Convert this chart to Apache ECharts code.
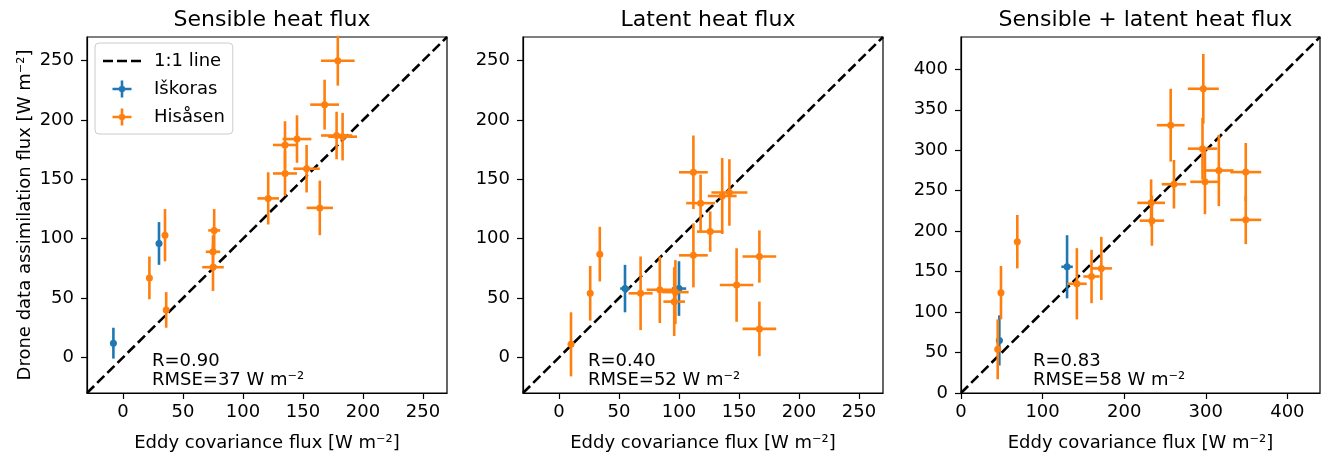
<!DOCTYPE html>
<html>
<head>
<meta charset="utf-8">
<script src="https://cdn.jsdelivr.net/npm/echarts@6/dist/echarts.min.js"></script>
<style>
html,body{margin:0;padding:0;background:#fff;}
#chart{width:1323px;height:457px;}
</style>
</head>
<body>
<div id="chart"></div>
<script>
// ---- data: [x (eddy covariance), y (drone), xerr, yerr] ----
const sensibleIskoras = [[-8, 12, 1, 13], [30, 96, 1, 18]];
const sensibleHisasen = [
  [22, 67, 1, 18], [35, 103, 1, 22], [36, 40, 1, 15], [76, 107, 5, 18],
  [75, 89, 6, 14], [75, 76, 9, 20], [121, 134, 9, 22], [135, 155, 10, 19],
  [135, 179, 10, 20], [145, 184, 12, 20], [153, 159, 11, 20], [164, 126, 11, 23],
  [168, 213, 12, 21], [178, 187, 13, 20], [183, 186, 12, 20], [179, 250, 14, 21]
];
const latentIskoras = [[55, 58, 4, 20], [100, 58, 6, 23]];
const latentHisasen = [
  [10, 11, 1, 27], [26, 54, 1, 23], [34, 87, 1, 23], [68, 54, 10, 31],
  [84, 57, 11, 28], [97, 55, 11, 27], [96, 47, 9, 29], [112, 156, 12, 31],
  [112, 86, 12, 27], [118, 130, 12, 24], [126, 106, 11, 17], [136, 136, 12, 32],
  [142, 139, 15, 28], [148, 61, 14, 31], [167, 85, 14, 22], [167, 24, 14, 23]
];
const totalIskoras = [[47, 65, 4, 31], [130, 156, 7, 39]];
const totalHisasen = [
  [45, 54, 2, 37], [49, 124, 2, 33], [69, 187, 2, 33], [142, 135, 12, 44],
  [160, 144, 10, 33], [172, 154, 13, 39], [233, 235, 17, 29], [234, 213, 15, 31],
  [257, 331, 17, 45], [261, 258, 15, 30], [297, 376, 19, 43], [296, 302, 18, 38],
  [299, 261, 18, 40], [316, 275, 18, 44], [349, 273, 19, 36], [349, 214, 19, 30]
];
const panelTitles = ['Sensible heat flux', 'Latent heat flux', 'Sensible + latent heat flux'];
const stats = [['R=0.90', 'RMSE=37 W m⁻²'], ['R=0.40', 'RMSE=52 W m⁻²'], ['R=0.83', 'RMSE=58 W m⁻²']];
const ticksSmall = [0, 50, 100, 150, 200, 250];
const ticksTotalX = [0, 100, 200, 300, 400];
const ticksTotalY = [0, 50, 100, 150, 200, 250, 300, 350, 400];
const rangeSmall = [-30, 270];
const rangeTotal = [0, 440];
const oneToOneSmall = [[-30, -30], [270, 270]];
const oneToOneTotal = [[0, 0], [440, 440]];
const xLabel = 'Eddy covariance flux [W m⁻²]';
const yLabel = 'Drone data assimilation flux [W m⁻²]';
const siteNames = ['Iškoras', 'Hisåsen'];

// ---- layout / style ----
const BLUE = '#1f77b4', ORANGE = '#ff7f0e';
const FONT = 'DejaVu Sans';
const FS = 18;
const grids = [
  {left: 87, top: 37, width: 360, height: 360},
  {left: 523, top: 37, width: 360, height: 360},
  {left: 961, top: 37, width: 359, height: 360}
];

function errRender(params, api) {
  const x = api.value(0), y = api.value(1), xe = api.value(2), ye = api.value(3);
  const l = api.coord([x - xe, y]), r = api.coord([x + xe, y]);
  const t = api.coord([x, y + ye]), b = api.coord([x, y - ye]);
  const style = {stroke: api.visual('color'), lineWidth: 2.6};
  return {type: 'group', children: [
    {type: 'line', shape: {x1: l[0], y1: l[1], x2: r[0], y2: r[1]}, style: style},
    {type: 'line', shape: {x1: t[0], y1: t[1], x2: b[0], y2: b[1]}, style: style}
  ]};
}

function axis(range, ticks, gridIndex, isX, withName) {
  const a = {
    type: 'value', gridIndex: gridIndex, min: range[0], max: range[1],
    splitLine: {show: false},
    axisLine: {show: true, onZero: false, lineStyle: {color: '#000', width: 1.2}},
    axisTick: {show: true, inside: false, length: 6, customValues: ticks, lineStyle: {color: '#000', width: 1.2}},
    axisLabel: {customValues: ticks, color: '#000', fontFamily: FONT, fontSize: FS, margin: isX ? 10 : 13},
    position: isX ? 'bottom' : 'left'
  };
  if (withName) {
    a.name = isX ? xLabel : yLabel;
    a.nameLocation = 'middle';
    a.nameGap = isX ? 41 : 53;
    a.nameTextStyle = {color: '#000', fontFamily: FONT, fontSize: FS};
  }
  return a;
}

const xAxes = [
  axis(rangeSmall, ticksSmall, 0, true, true),
  axis(rangeSmall, ticksSmall, 1, true, true),
  axis(rangeTotal, ticksTotalX, 2, true, true)
];
const yAxes = [
  axis(rangeSmall, ticksSmall, 0, false, true),
  axis(rangeSmall, ticksSmall, 1, false, false),
  axis(rangeTotal, ticksTotalY, 2, false, false)
];

const panels = [
  [sensibleIskoras, sensibleHisasen, oneToOneSmall],
  [latentIskoras, latentHisasen, oneToOneSmall],
  [totalIskoras, totalHisasen, oneToOneTotal]
];

const series = [];
panels.forEach(function (p, i) {
  series.push({
    name: '1:1 line', type: 'line', xAxisIndex: i, yAxisIndex: i, data: p[2],
    symbol: 'none', silent: true, z: 1, itemStyle: {color: '#000'},
    lineStyle: {color: '#000', width: 2.6, type: [10, 4.3]}
  });
  [[p[0], siteNames[0], BLUE], [p[1], siteNames[1], ORANGE]].forEach(function (s, k) {
    series.push({
      name: s[1], type: 'custom', xAxisIndex: i, yAxisIndex: i, data: s[0],
      renderItem: errRender, itemStyle: {color: s[2]}, z: 2 + k * 2, clip: false,
      encode: {x: 0, y: 1}
    });
    series.push({
      name: s[1], type: 'scatter', xAxisIndex: i, yAxisIndex: i, data: s[0],
      symbol: 'circle', symbolSize: 7, itemStyle: {color: s[2], opacity: 1}, z: 3 + k * 2,
      encode: {x: 0, y: 1}
    });
  });
});

const dashIcon = 'path://M0,0 M38,17 M0,7.2 h10 v2.6 h-10 z M14,7.2 h10 v2.6 h-10 z M28,7.2 h10 v2.6 h-10 z';
const crossIcon = 'path://M0,0 M38,17 M9.5,7.2 h19 v2.6 h-19 z M17.7,0 h2.6 v17 h-2.6 z ' +
  'M22.5,8.5 L21.5,11 L19,12 L16.5,11 L15.5,8.5 L16.5,6 L19,5 L21.5,6 z';

const graphics = [];
const statLeft = [152, 588, 1033];
stats.forEach(function (s, i) {
  graphics.push({type: 'text', left: statLeft[i], top: 352, z: 10,
    style: {text: s[0], font: FS + 'px "DejaVu Sans"', fill: '#000'}});
  graphics.push({type: 'text', left: statLeft[i], top: 371, z: 10,
    style: {text: s[1], font: FS + 'px "DejaVu Sans"', fill: '#000'}});
});

const option = {
  animation: false,
  backgroundColor: '#fff',
  textStyle: {fontFamily: FONT},
  title: panelTitles.map(function (t, i) {
    return {text: t, left: grids[i].left + grids[i].width / 2, textAlign: 'center', top: 4,
      textStyle: {fontFamily: FONT, fontSize: 22, fontWeight: 'normal', color: '#000'}};
  }),
  grid: grids.map(function (g) {
    return Object.assign({show: true, borderColor: '#000', borderWidth: 1.2, backgroundColor: 'transparent', containLabel: false}, g);
  }),
  legend: {
    orient: 'vertical', left: 95, top: 43, z: 20,
    backgroundColor: 'rgba(255,255,255,0.85)', borderColor: '#ccc', borderWidth: 1, borderRadius: 4,
    padding: [9, 8, 8, 8], itemGap: 10, itemWidth: 38, itemHeight: 17,
    textStyle: {fontFamily: FONT, fontSize: FS, lineHeight: 17, color: '#000', padding: [0, 0, 0, 8]},
    selectedMode: false,
    data: [
      {name: '1:1 line', icon: dashIcon, itemStyle: {color: '#000'}},
      {name: siteNames[0], icon: crossIcon, itemStyle: {color: BLUE}},
      {name: siteNames[1], icon: crossIcon, itemStyle: {color: ORANGE}}
    ]
  },
  xAxis: xAxes,
  yAxis: yAxes,
  series: series,
  graphic: graphics
};

const chart = echarts.init(document.getElementById('chart'), null, {renderer: 'canvas'});
chart.setOption(option);
</script>
</body>
</html>
